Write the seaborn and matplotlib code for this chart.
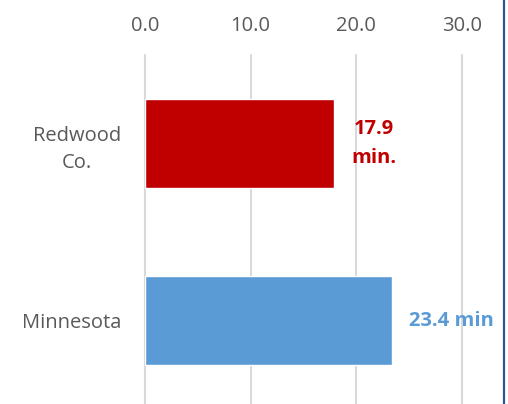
import pandas as pd
import matplotlib.pyplot as plt
import seaborn as sns
from matplotlib.lines import Line2D

# Data
regions = ["Redwood\nCo.", "Minnesota"]
minutes = [17.9, 23.4]
value_labels = ["17.9\nmin.", "23.4 min"]
bar_colors = ["#C00000", "#5B9BD5"]
x_ticks = [0, 10, 20, 30]

df = pd.DataFrame({"region": regions, "minutes": minutes})

sns.set_style("white")
plt.rcParams['font.family'] = ['Open Sans', 'DejaVu Sans']

fig = plt.figure(figsize=(5.08, 4.04), dpi=100)
ax = fig.add_axes([0.2854, -0.0124, 0.6240, 0.8763])

sns.barplot(data=df, y="region", x="minutes", hue="region",
            palette=bar_colors, orient="h", width=0.5, saturation=1,
            legend=False, ax=ax, zorder=3)

ax.set_xlim(0, 30)
ax.set_ylim(1.5, -0.5)
ax.set_xticks(x_ticks)
ax.set_xticklabels([f"{t:.1f}" for t in x_ticks])
ax.xaxis.tick_top()
ax.tick_params(axis='x', length=0, pad=14, labelsize=14.5, labelcolor="#595959")
ax.tick_params(axis='y', length=0, pad=17, labelsize=14.5, labelcolor="#595959")
for lbl in ax.get_yticklabels():
    lbl.set_multialignment('center')
    lbl.set_linespacing(1.5)
ax.set_xlabel("")
ax.set_ylabel("")
ax.grid(axis='x', color="#D9D9D9", linewidth=1.5, zorder=0)
for gl in ax.get_xgridlines():
    gl.set_clip_on(False)
ax.set_axisbelow(True)
for s in ax.spines.values():
    s.set_visible(False)

# value labels
for i, (v, txt, c) in enumerate(zip(minutes, value_labels, bar_colors)):
    ax.annotate(txt, xy=(v, i), xytext=(17, 0), textcoords="offset pixels",
                ha="left", va="center", multialignment="center",
                linespacing=1.55, color=c, fontsize=14.5,
                fontweight="bold", zorder=5)

# right border line
fig.add_artist(Line2D([0.9912, 0.9912], [0, 1], color="#2F5597",
                      linewidth=1.6, transform=fig.transFigure))

fig.savefig("out.png", dpi=100)
